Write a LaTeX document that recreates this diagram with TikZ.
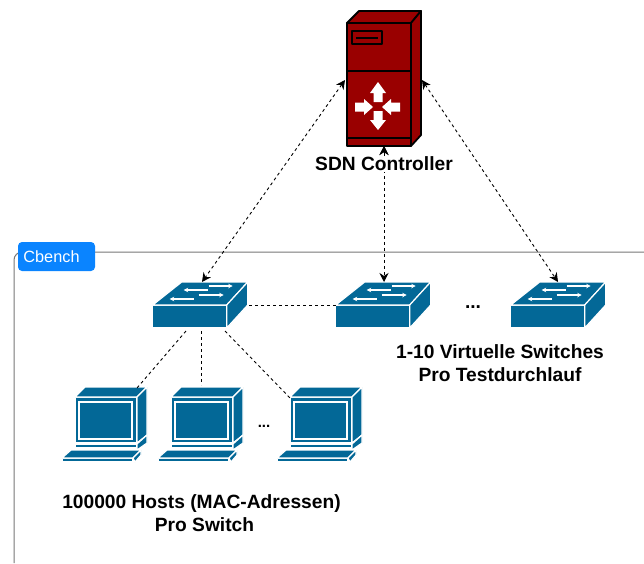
\documentclass[tikz,border=0pt]{standalone}
\usepackage{fontspec}
\setmainfont{Liberation Sans}
\usetikzlibrary{arrows.meta}
\definecolor{devblue}{HTML}{036897}
\definecolor{srvred}{HTML}{990000}
\definecolor{tagblue}{HTML}{0A84FF}
\definecolor{framegray}{HTML}{777777}
\tikzset{
  x=1pt,y=-1pt,
  devface/.style={fill=devblue,draw=white,line width=1.2pt,line join=round},
  srvface/.style={fill=srvred,draw=black,line width=1.8pt,line join=round},
  srvwhite/.style={fill=white,draw=none},
  sigbi/.style={dash pattern=on 3pt off 3pt,line width=0.9pt,{Stealth[length=9pt,width=9pt]}-{Stealth[length=9pt,width=9pt]}},
  linkline/.style={dash pattern=on 3pt off 3pt,line width=0.9pt},
  lbl/.style={font=\fontsize{19.2}{23}\selectfont\bfseries,align=center,text=black,inner sep=0pt},
  tag/.style={fill=tagblue,rounded corners=4pt,text=white,font=\fontsize{16.3}{19}\selectfont,inner sep=0pt,minimum width=77pt,minimum height=29pt},
  pics/swdev/.style={code={
    \path[devface] (0,0) rectangle (74,23);
    \path[devface] (0,0) -- (29,-23) -- (95,-23) -- (74,0) -- cycle;
    \path[devface] (74,0) -- (95,-23) -- (95,0) -- (74,23) -- cycle;
    \begin{scope}[line width=1.2pt,-{Stealth[length=4.5pt,width=4.5pt]}]
      \draw[white] (55,-15) -- (31,-15);
      \draw[white] (56,-19) -- (80,-19);
      \draw[white] (41,-6) -- (17,-6);
      \draw[white] (46,-10) -- (71,-10);
    \end{scope}
  }},
  pics/hostdev/.style={code={
    % origin is the left end of the keyboard front
    \path[devface] (13,-61) rectangle (75,-15);
    \path[devface] (13,-61) -- (23,-71) -- (85,-71) -- (75,-61) -- cycle;
    \path[devface] (75,-61) -- (85,-71) -- (85,-23) -- (75,-15) -- cycle;
    \path[fill=devblue,draw=white,line width=1.2pt] (17,-56) rectangle (70,-19);
    \path[devface] (13,-14) rectangle (75,-10);
    \path[devface] (75,-14) -- (85,-23) -- (85,-15) -- (75,-8) -- cycle;
    \path[devface] (0,0) rectangle (71,4);
    \path[devface] (0,0) -- (9,-8) -- (79,-8) -- (71,0) -- cycle;
    \path[devface] (71,0) -- (79,-8) -- (79,-3) -- (73,4) -- cycle;
  }}
}
\begin{document}
\begin{tikzpicture}
\useasboundingbox (0,0) rectangle (644,563);
% frame
\draw[framegray,line width=1pt,rounded corners=8pt] (14,563) -- (14,252) -- (644,252);
\node[tag] (cbench) at (56.5,256.5) {\hspace*{-10pt}Cbench};
% server
\path[srvface] (347,23) -- (359,11) -- (421,11) -- (411,23) -- cycle;
\path[srvface] (411,23) -- (421,11) -- (421,135) -- (411,146) -- cycle;
\path[srvface] (347,23) rectangle (411,146);
\draw[black,line width=1.8pt] (347,71) -- (411,71);
\draw[black,line width=1.8pt] (347,138) -- (411,138);
\path[srvface] (352,31) rectangle (382,44);
\draw[black,line width=1.8pt] (356,38) -- (378,38);
\path[srvwhite] (378,82) -- (386,93) -- (382.5,93) -- (382.5,102) -- (373.5,102) -- (373.5,93) -- (370,93) -- cycle;
\path[srvwhite] (378,130) -- (386,120) -- (382.5,120) -- (382.5,111) -- (373.5,111) -- (373.5,120) -- (370,120) -- cycle;
\path[srvwhite] (373,107) -- (364,99) -- (364,102.5) -- (355,102.5) -- (355,111.5) -- (364,111.5) -- (364,115) -- cycle;
\path[srvwhite] (382,107) -- (391,99) -- (391,102.5) -- (400,102.5) -- (400,111.5) -- (391,111.5) -- (391,115) -- cycle;
% switches
\pic at (152.7,305) {swdev};
\pic at (335.7,305) {swdev};
\pic at (510.7,305) {swdev};
% hosts
\pic at (62,458) {hostdev};
\pic at (158,458) {hostdev};
\pic at (277,458) {hostdev};
% anchors
\coordinate (ctlL) at (345,80);
\coordinate (ctlB) at (384,146);
\coordinate (ctlR) at (422,80);
\coordinate (swAtop) at (202,282);
\coordinate (swBtop) at (384,282);
\coordinate (swCtop) at (558,282);
\coordinate (swAr) at (249,305);
\coordinate (swBl) at (336,305);
\coordinate (swAb1) at (186,331);
\coordinate (swAb2) at (201,331);
\coordinate (swAb3) at (225,331);
\coordinate (h1) at (137,388);
\coordinate (h2) at (201,385);
\coordinate (h3) at (290,398);
% connectors
\draw[sigbi] (ctlL) -- (swAtop);
\draw[sigbi] (ctlR) -- (swCtop);
\draw[linkline] (swAr) -- (swBl);
\draw[linkline] (swAb1) -- (h1);
\draw[linkline] (swAb2) -- (h2);
\draw[linkline] (swAb3) -- (h3);
% labels
\draw[sigbi] (ctlB) -- (swBtop);
\node[lbl,fill=white,inner sep=0.5pt] (ctlname) at (384,164) {SDN Controller};
\draw[-{Stealth[length=9pt,width=9pt]},line width=0.9pt] (384,156) -- (ctlB);
\node[lbl] (dots1) at (473,307) {...};
\node[lbl] (swname) at (500,363.5) {1-10 Virtuelle Switches\\Pro Testdurchlauf};
\node[lbl,font=\fontsize{15}{17}\selectfont\bfseries] (dots2) at (264,426) {...};
\node[lbl] (hostname) at (201.5,513.5) {100000 Hosts (MAC-Adressen)\\\hspace*{6pt}Pro Switch};
\end{tikzpicture}
\end{document}
